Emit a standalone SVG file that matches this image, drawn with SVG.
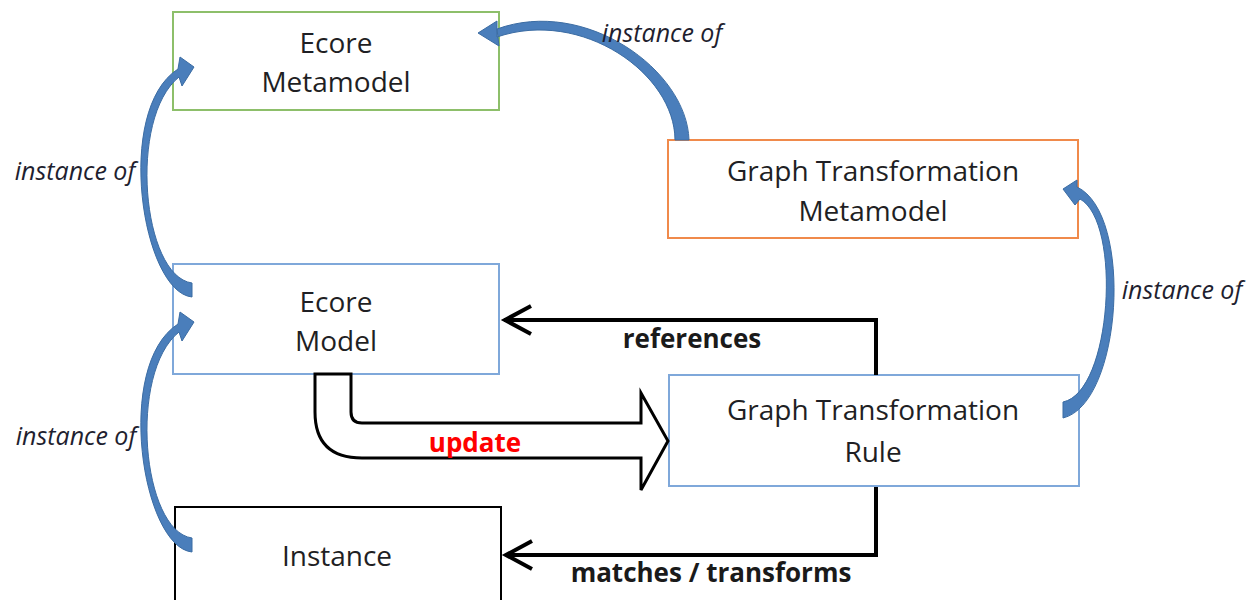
<svg xmlns="http://www.w3.org/2000/svg" xmlns:xlink="http://www.w3.org/1999/xlink" width="1248" height="600" viewBox="0 0 1248 600">
  <style>
    .box { fill: #ffffff; stroke-width: 2; }
    .node { font-family: "Open Sans", "Liberation Sans", sans-serif; font-size: 28px; fill: #1f1f24; text-anchor: middle; }
    .rel { font-family: "Open Sans", "Liberation Sans", sans-serif; font-size: 25px; font-style: italic; fill: #1f1f30; text-anchor: middle; }
    .lbl { font-family: "Open Sans", "Liberation Sans", sans-serif; font-size: 26px; font-weight: bold; fill: #1a1a1a; text-anchor: middle; }
    .curved { fill: #4a7ebb; stroke: #3b6ca3; stroke-width: 1; stroke-linejoin: round; }
    .line { fill: none; stroke: #000000; stroke-width: 4; }
    .chev { fill: none; stroke: #000000; stroke-width: 4; stroke-linejoin: miter; }
  </style>
  <defs>
    <!-- tapered curved "instance of" arrow, tail at lower right, head at upper right -->
    <path id="curveLeft" class="curved" d="M192,297 C142,292 114,110 178,69 L180,57 L194,67 L182,86 L179,77 C128,118 142,276 192,283 Z"/>
  </defs>

  <rect width="1248" height="600" fill="#ffffff"/>

  <g id="ecore-metamodel">
    <rect class="box" x="173" y="12" width="326" height="98" stroke="#8dbf6a"/>
    <text class="node" x="336" y="53">Ecore</text>
    <text class="node" x="336" y="92">Metamodel</text>
  </g>

  <g id="gt-metamodel">
    <rect class="box" x="668" y="140" width="410" height="98" stroke="#f08a4b"/>
    <text class="node" x="873" y="181">Graph Transformation</text>
    <text class="node" x="873" y="221">Metamodel</text>
  </g>

  <g id="ecore-model">
    <rect class="box" x="173" y="264" width="326" height="110" stroke="#7fa8da"/>
    <text class="node" x="336" y="312">Ecore</text>
    <text class="node" x="336" y="351">Model</text>
  </g>

  <g id="gt-rule">
    <rect class="box" x="669" y="375" width="410" height="111" stroke="#7fa8da"/>
    <text class="node" x="873" y="420">Graph Transformation</text>
    <text class="node" x="873" y="462">Rule</text>
  </g>

  <g id="instance">
    <rect class="box" x="175" y="507" width="326" height="110" stroke="#000000"/>
    <text class="node" x="337" y="566">Instance</text>
  </g>

  <g id="connectors">
    <!-- instance-of arcs -->
    <use xlink:href="#curveLeft"/>
    <use xlink:href="#curveLeft" transform="translate(0,255)"/>
    <path class="curved" d="M689,140 C687,70 585,-3 497,29 L499,46 L478,33 L497,21 L497,37 C582,8 675,74 675,140 Z"/>
    <path class="curved" d="M1063,418 C1122,404 1134,214 1077,187 L1077,180 L1063,189 L1075,205 L1080,199 C1122,222 1112,392 1063,402 Z"/>

    <!-- references -->
    <polyline class="line" points="876,375 876,320 504,320"/>
    <polyline class="chev" points="531,306 505,320 531,334"/>

    <!-- matches / transforms -->
    <polyline class="line" points="876,487 876,555 506,555"/>
    <polyline class="chev" points="532,541 506,555 532,569"/>

    <!-- update block arrow -->
    <path d="M315,374 L351,374 L351,412 Q351,423 362,423 L641,423 L641,393 L668,441 L641,490 L641,458 L362,458 Q315,458 315,412 Z" fill="#ffffff" stroke="#000000" stroke-width="3" stroke-linejoin="miter"/>
  </g>

  <g id="labels">
    <text class="rel" x="662" y="42">instance of</text>
    <text class="rel" x="75" y="180">instance of</text>
    <text class="rel" x="76" y="445">instance of</text>
    <text class="rel" x="1182" y="299">instance of</text>
    <text class="lbl" x="692" y="348">references</text>
    <text class="lbl" x="475" y="452" fill="#ff0000" style="fill:#ff0000">update</text>
    <text class="lbl" x="711" y="582">matches / transforms</text>
  </g>
</svg>
